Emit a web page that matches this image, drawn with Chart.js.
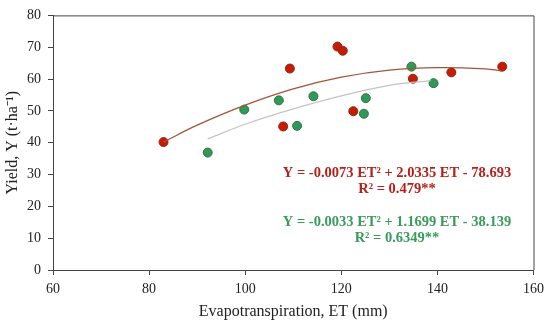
<!DOCTYPE html>
<html>
<head>
<meta charset="utf-8">
<script src="https://cdn.jsdelivr.net/npm/chart.js@4"></script>
<style>
  html, body { margin: 0; padding: 0; background: #fff; }
  #wrap { width: 550px; height: 323px; }
</style>
</head>
<body>
<div id="wrap"><canvas id="yieldChart"></canvas></div>
<script>
// measured points, ET (mm) vs yield (t/ha)
const redET = [83.0, 107.9, 109.3, 119.2, 120.3, 122.5, 134.9, 142.9, 153.5];
const redYield = [40.2, 45.1, 63.3, 70.2, 68.9, 49.9, 60.1, 62.1, 63.9];
const greenET = [92.2, 99.8, 107.0, 110.8, 114.2, 124.7, 125.1, 134.6, 139.2];
const greenYield = [36.9, 50.4, 53.3, 45.3, 54.6, 49.1, 54.0, 63.9, 58.7];

// trend curves
const redTrendET = [83, 90, 100, 110, 120, 130, 140, 150, 153.5];
const redTrendY = [40.2, 45.5, 51.8, 56.9, 60.6, 62.8, 63.6, 63.2, 62.5];
const greenTrendET = [92.2, 100, 110, 120, 130, 138.6];
const greenTrendY = [41.2, 45.8, 50.6, 54.7, 58.0, 59.5];

const xTicks = [60, 80, 100, 120, 140, 160];
const yTicks = [0, 10, 20, 30, 40, 50, 60, 70, 80];

const redEq = "Y = -0.0073 ET² + 2.0335 ET - 78.693";
const redR2 = "R² = 0.479**";
const greenEq = "Y = -0.0033 ET² + 1.1699 ET - 38.139";
const greenR2 = "R² = 0.6349**";

const serif = "'Liberation Serif', 'Times New Roman', serif";
const axisColor = "#444";

function pts(xs, ys) {
    return xs.map((x, i) => ({ x: x, y: ys[i] }));
}

// frame round the plot area + equation labels
const extras = {
    id: "extras",
    afterDraw(chart) {
        const ctx = chart.ctx;
        const a = chart.chartArea;
        ctx.save();
        ctx.strokeStyle = axisColor;
        ctx.lineWidth = 1;
        ctx.beginPath();
        ctx.moveTo(a.left, a.top + 0.5);
        ctx.lineTo(a.right + 0.5, a.top + 0.5);
        ctx.lineTo(a.right + 0.5, a.bottom);
        ctx.stroke();

        ctx.font = "bold 14.5px " + serif;
        ctx.textAlign = "center";
        ctx.textBaseline = "middle";
        const cx = a.left + 344;
        ctx.fillStyle = "#b3221a";
        ctx.fillText(redEq, cx, 173);
        ctx.fillText(redR2, cx, 189);
        ctx.fillStyle = "#3a9a5c";
        ctx.fillText(greenEq, cx, 222);
        ctx.fillText(greenR2, cx, 238);
        ctx.restore();
    },
};

new Chart(document.getElementById("yieldChart"), {
    type: "scatter",
    data: {
        datasets: [
            {
                label: "trend red",
                type: "line",
                data: pts(redTrendET, redTrendY),
                borderColor: "#a0553a",
                borderWidth: 1.3,
                pointRadius: 0,
                tension: 0.4,
                fill: false,
            },
            {
                label: "trend green",
                type: "line",
                data: pts(greenTrendET, greenTrendY),
                borderColor: "#c4c4c4",
                borderWidth: 1.3,
                pointRadius: 0,
                tension: 0.4,
                fill: false,
            },
            {
                label: "red",
                data: pts(redET, redYield),
                backgroundColor: "#c81a05",
                borderColor: "#8a2a10",
                borderWidth: 1,
                pointRadius: 4.5,
            },
            {
                label: "green",
                data: pts(greenET, greenYield),
                backgroundColor: "#2e9a58",
                borderColor: "#3a6e42",
                borderWidth: 1,
                pointRadius: 4.5,
            },
        ],
    },
    options: {
        responsive: true,
        maintainAspectRatio: false,
        animation: false,
        layout: { padding: { top: 8, right: 13, left: 0, bottom: 0 } },
        plugins: {
            legend: { display: false },
            tooltip: { enabled: false },
        },
        scales: {
            x: {
                type: "linear",
                min: 60,
                max: 160,
                afterBuildTicks: (s) => { s.ticks = xTicks.map((v) => ({ value: v })); },
                afterFit: (s) => { s.height = 53; },
                border: { color: axisColor, width: 1 },
                grid: { drawOnChartArea: false, drawTicks: true, tickLength: 5, color: axisColor },
                ticks: { color: "#222", font: { family: serif, size: 14 }, padding: 6 },
                title: {
                    display: true,
                    text: "Evapotranspiration, ET (mm)",
                    color: "#222",
                    font: { family: serif, size: 16 },
                    padding: { top: 0, bottom: 2 },
                },
            },
            y: {
                min: 0,
                max: 80,
                afterBuildTicks: (s) => { s.ticks = yTicks.map((v) => ({ value: v })); },
                afterFit: (s) => { s.width = 53; },
                border: { color: axisColor, width: 1 },
                grid: { drawOnChartArea: false, drawTicks: true, tickLength: 5, color: axisColor },
                ticks: { color: "#222", font: { family: serif, size: 14 }, padding: 7 },
                title: {
                    display: true,
                    text: "Yield, Y (t·ha⁻¹)",
                    color: "#222",
                    font: { family: serif, size: 16 },
                    padding: { top: 3, bottom: 0 },
                },
            },
        },
    },
    plugins: [extras],
});
</script>
</body>
</html>
